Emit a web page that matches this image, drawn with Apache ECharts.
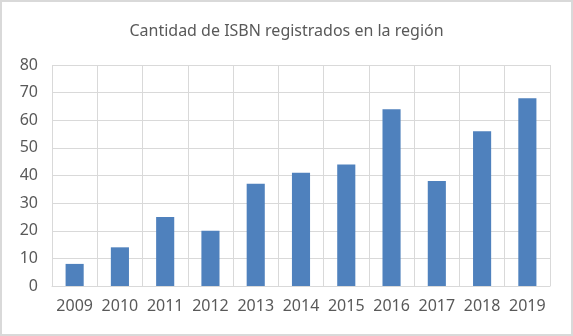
<!DOCTYPE html>
<html><head><meta charset="utf-8">
<script src="https://cdn.jsdelivr.net/npm/echarts@6/dist/echarts.min.js"></script>
<style>
html,body{margin:0;padding:0;background:#fff;}
#c{position:absolute;left:0;top:0;width:573px;height:336px;box-sizing:border-box;border:2px solid #d9d9d9;}
</style></head>
<body><div id="c"></div>
<script>
const title = "Cantidad de ISBN registrados en la región";
const categories = ["2009","2010","2011","2012","2013","2014","2015","2016","2017","2018","2019"];
const values = [8,14,25,20,37,41,44,64,38,56,68];
const chart = echarts.init(document.getElementById('c'), null, {renderer:'canvas'});
chart.setOption({
  animation:false,
  title:{text:title,left:'center',top:16,textStyle:{fontFamily:'Noto Sans',fontSize:16,fontWeight:'normal',color:'#595959'}},
  grid:{left:50,right:21,top:63,bottom:48},
  xAxis:{type:'category',data:categories,
    axisLine:{lineStyle:{color:'#d9d9d9'}},axisTick:{show:false},
    splitLine:{show:true,interval:0,lineStyle:{color:'#d9d9d9'}},
    axisLabel:{interval:0,hideOverlap:false,color:'#595959',fontFamily:'Noto Sans',fontSize:16,margin:12}},
  yAxis:{type:'value',min:0,max:80,interval:10,
    axisLine:{show:false},axisTick:{show:false},
    splitLine:{lineStyle:{color:'#d9d9d9'}},
    axisLabel:{color:'#595959',fontFamily:'Noto Sans',fontSize:16,margin:14}},
  series:[{type:'bar',data:values,barWidth:'40%',itemStyle:{color:'#4f81bd'}}]
});
</script></body></html>
